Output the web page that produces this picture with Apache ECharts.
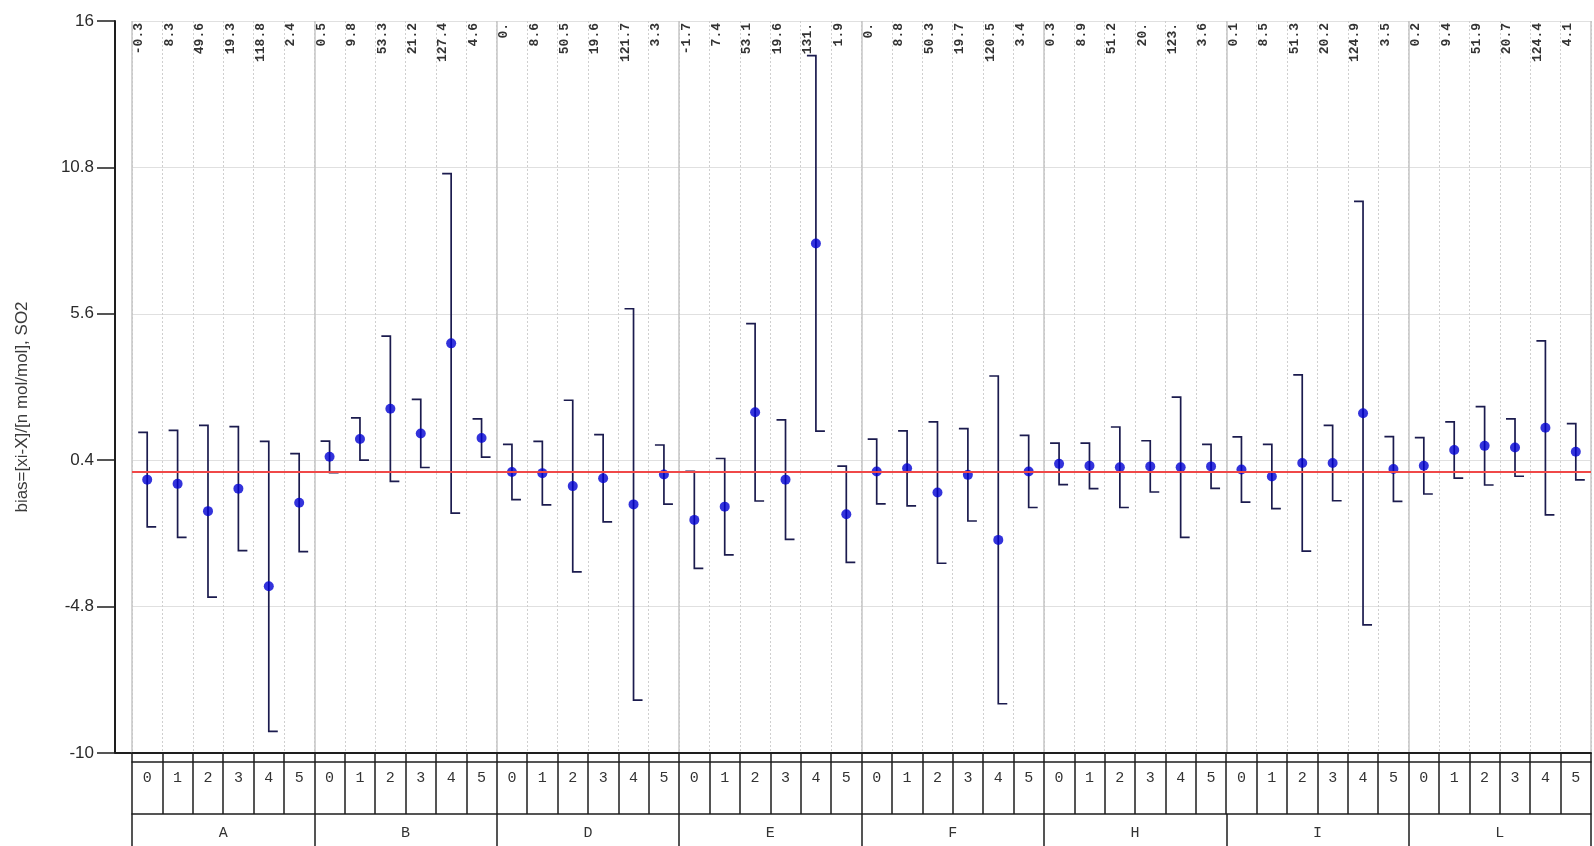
<!DOCTYPE html>
<html>
<head>
<meta charset="utf-8">
<title>SO2 bias by laboratory and level</title>
<script src="https://cdn.jsdelivr.net/npm/echarts@6/dist/echarts.min.js"></script>
<style>
  html, body { margin: 0; padding: 0; background: #fff; }
  #chart { width: 1594px; height: 846px; }
</style>
</head>
<body>
<div id="chart"></div>
<script>
// Participants (outer row) and concentration levels (inner row)
const groups = ['A', 'B', 'D', 'E', 'F', 'H', 'I', 'L'];
const levels = ['0', '1', '2', '3', '4', '5'];

// Bias of each participant at each level, nmol/mol
const bias = [
  -0.29, -0.44, -1.41, -0.61, -4.08, -1.11,   // A
   0.52,  1.15,  2.23,  1.35,  4.55,  1.19,   // B
  -0.02, -0.06, -0.52, -0.24, -1.17, -0.11,   // D
  -1.72, -1.25,  2.10, -0.29,  8.10, -1.52,   // E
   0.00,  0.11, -0.75, -0.12, -2.43,  0.00,   // F
   0.27,  0.20,  0.15,  0.18,  0.15,  0.18,   // H
   0.07, -0.18,  0.30,  0.30,  2.07,  0.09,   // I
   0.20,  0.76,  0.91,  0.85,  1.55,  0.70    // L
];

// Expanded uncertainty of each bias, nmol/mol
const uncertainty = [
  1.68, 1.90, 3.05, 2.20, 5.15, 1.74,   // A
  0.56, 0.75, 2.58, 1.21, 6.03, 0.68,   // B
  0.98, 1.13, 3.05, 1.55, 6.95, 1.05,   // D
  1.72, 1.71, 3.15, 2.12, 6.67, 1.71,   // E
  1.15, 1.33, 2.51, 1.64, 5.82, 1.28,   // F
  0.74, 0.81, 1.43, 0.91, 2.49, 0.78,   // H
  1.16, 1.14, 3.13, 1.34, 7.52, 1.15,   // I
  1.00, 1.00, 1.39, 1.02, 3.09, 1.00    // L
];

// Reported values printed along the top of each column
const reported = [
  '-0.3', '8.3', '49.6', '19.3', '118.8', '2.4',
  '0.5', '9.8', '53.3', '21.2', '127.4', '4.6',
  '0.', '8.6', '50.5', '19.6', '121.7', '3.3',
  '-1.7', '7.4', '53.1', '19.6', '131.', '1.9',
  '0.', '8.8', '50.3', '19.7', '120.5', '3.4',
  '0.3', '8.9', '51.2', '20.', '123.', '3.6',
  '0.1', '8.5', '51.3', '20.2', '124.9', '3.5',
  '0.2', '9.4', '51.9', '20.7', '124.4', '4.1'
];

// Y axis scale
const yMin = -10, yMax = 16, yStep = 5.2;
const yTitle = 'bias=[xi-X]/[n mol/mol], SO2';

// Layout
const GRID = { left: 132, right: 3, top: 21, bottom: 93 };
const Y_AXIS_OFFSET = 17;
const CHART_H = 846;

const columns = [];
groups.forEach(g => levels.forEach(l => columns.push(g + l)));
const levelLabels = [];
groups.forEach(() => levels.forEach(l => levelLabels.push(l)));

const chart = echarts.init(document.getElementById('chart'), null, { renderer: 'canvas' });

const axisInk = '#1e1e1e';

const option = {
  animation: false,
  backgroundColor: '#ffffff',
  grid: { left: GRID.left, right: GRID.right, top: GRID.top, bottom: GRID.bottom, containLabel: false },
  xAxis: [
    {
      // data columns
      type: 'category',
      data: columns,
      boundaryGap: true,
      position: 'bottom',
      axisLine: { show: true, onZero: false, lineStyle: { color: axisInk, width: 2 } },
      axisTick: { show: true, interval: 0, length: 9, lineStyle: { color: axisInk, width: 1.5 } },
      axisLabel: { show: false },
      splitLine: { show: true, interval: 0, lineStyle: { color: '#cfcfcf', width: 1, type: [2, 2] } }
    },
    {
      // level row of the table
      type: 'category',
      data: levelLabels,
      boundaryGap: true,
      position: 'bottom',
      offset: 9,
      axisLine: { show: true, onZero: false, lineStyle: { color: axisInk, width: 1.5 } },
      axisTick: { show: true, interval: 0, length: 52, lineStyle: { color: axisInk, width: 1.5 } },
      axisLabel: { show: true, interval: 0, margin: 9, fontFamily: 'Liberation Mono', fontSize: 15, color: '#333' },
      splitLine: { show: false }
    },
    {
      // participant row of the table
      type: 'category',
      data: groups,
      boundaryGap: true,
      position: 'bottom',
      offset: 61,
      axisLine: { show: true, onZero: false, lineStyle: { color: axisInk, width: 1.5 } },
      axisTick: { show: true, interval: 0, length: 40, lineStyle: { color: axisInk, width: 1.5 } },
      axisLabel: { show: true, interval: 0, margin: 12, fontFamily: 'Liberation Mono', fontSize: 15, color: '#333' },
      splitLine: { show: true, interval: 0, lineStyle: { color: '#c6c6c6', width: 1.5 } }
    }
  ],
  yAxis: {
    type: 'value',
    min: yMin,
    max: yMax,
    interval: yStep,
    offset: Y_AXIS_OFFSET,
    axisLine: { show: true, onZero: false, lineStyle: { color: axisInk, width: 2 } },
    axisTick: { show: true, length: 18, lineStyle: { color: axisInk, width: 1.5 } },
    axisLabel: {
      margin: 21,
      fontFamily: 'Liberation Sans',
      fontSize: 17,
      color: '#2a2a2a',
      formatter: v => String(Number(v.toFixed(1)))
    },
    splitLine: { show: true, lineStyle: { color: '#e0e0e0', width: 1 } }
  },
  graphic: [
    {
      // axis title
      type: 'text',
      x: 22,
      y: 407,
      rotation: Math.PI / 2,
      style: {
        text: yTitle,
        fontFamily: 'Liberation Sans',
        fontSize: 17,
        fill: '#3a3a3a',
        align: 'center',
        verticalAlign: 'middle'
      }
    },
    {
      // bottom axis line continued to the y axis
      type: 'line',
      shape: {
        x1: GRID.left - Y_AXIS_OFFSET, y1: CHART_H - GRID.bottom,
        x2: GRID.left, y2: CHART_H - GRID.bottom
      },
      style: { stroke: axisInk, lineWidth: 2 }
    }
  ],
  series: [
    {
      // uncertainty bars: top cap to the left, bottom cap to the right
      type: 'custom',
      name: 'uncertainty',
      xAxisIndex: 0,
      yAxisIndex: 0,
      z: 2,
      silent: true,
      data: bias.map((b, i) => [i, b - uncertainty[i], b + uncertainty[i]]),
      renderItem: (params, api) => {
        const i = api.value(0);
        const lo = api.coord([i, api.value(1)]);
        const hi = api.coord([i, api.value(2)]);
        const cap = 9;
        return {
          type: 'polyline',
          shape: { points: [[hi[0] - cap, hi[1]], hi, lo, [lo[0] + cap, lo[1]]] },
          style: { stroke: '#1b1b4e', lineWidth: 1.7, fill: null }
        };
      }
    },
    {
      type: 'scatter',
      name: 'bias',
      xAxisIndex: 0,
      yAxisIndex: 0,
      z: 3,
      symbol: 'circle',
      symbolSize: 10,
      itemStyle: { color: '#0000d2' },
      data: bias.map((b, i) => [i, b]),
      markLine: {
        silent: true,
        symbol: ['none', 'none'],
        label: { show: false },
        lineStyle: { color: '#f04848', width: 2, type: 'solid' },
        data: [{ yAxis: 0 }]
      }
    },
    {
      // reported values along the top edge
      type: 'custom',
      name: 'reported',
      xAxisIndex: 0,
      yAxisIndex: 0,
      z: 4,
      silent: true,
      data: reported.map((t, i) => [i, yMax]),
      renderItem: (params, api) => {
        const p = api.coord([api.value(0), api.value(1)]);
        return {
          type: 'text',
          x: p[0] - 8,
          y: p[1] + 2,
          rotation: Math.PI / 2,
          style: {
            text: reported[params.dataIndex],
            fontFamily: 'Liberation Mono',
            fontWeight: 'bold',
            fontSize: 13,
            fill: '#333',
            align: 'right',
            verticalAlign: 'middle'
          }
        };
      }
    }
  ]
};

chart.setOption(option);
</script>
</body>
</html>
